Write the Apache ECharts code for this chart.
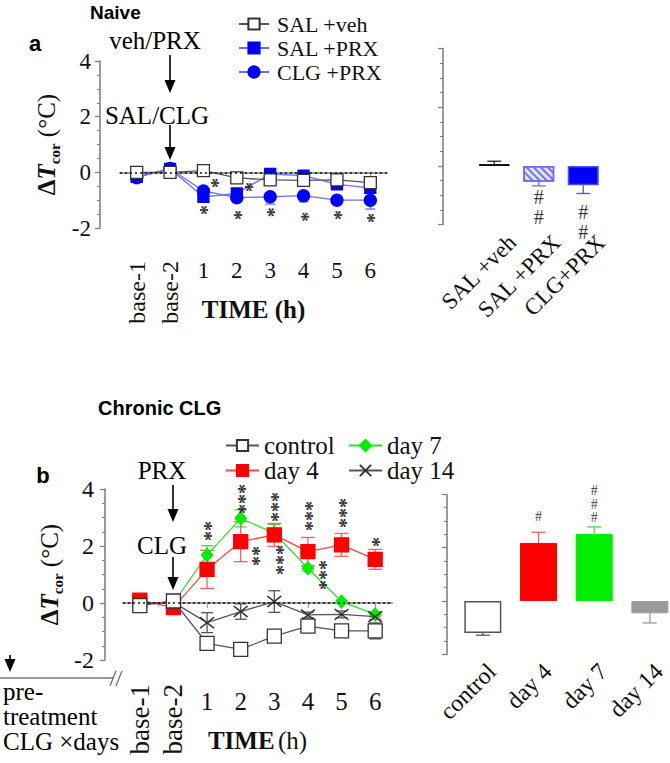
<!DOCTYPE html>
<html><head><meta charset="utf-8">
<script src="https://cdn.jsdelivr.net/npm/echarts@6/dist/echarts.min.js"></script>
<style>html,body{margin:0;padding:0;background:#fff}#c{width:670px;height:763px}</style>
</head><body><div id="c"></div>
<script>
// ---------- DATA ----------
const timeCats = ['base-1','base-2','1','2','3','4','5','6'];
// Panel a (Naive)
const salVeh   = [0, 0, 0.06, -0.2, -0.27, -0.29, -0.27, -0.37];
const salPrx   = [-0.16, 0.12, -0.88, -0.76, -0.06, -0.12, -0.43, -0.56];
const clgPrx   = [-0.19, 0.14, -0.67, -0.91, -0.88, -0.84, -1.0, -1.0];
const salPrxErr = [0, 0, 0.1, 0.08, 0.05, 0.06, 0.08, 0.1];
const clgPrxErr = [0.04, 0.04, 0.1, 0.08, 0.26, 0.22, 0.08, 0.32];
const barCatsA = ['SAL +veh','SAL +PRX','CLG+PRX'];
const barValsA = [0.03, -0.27, -0.33];
const barErrA  = [0.05, 0.07, 0.14];
const starsA     = [[2,-1.35,'*'],[3,-1.53,'*'],[4,-1.43,'*'],[5,-1.6,'*'],[6,-1.53,'*'],[7,-1.64,'*']];
const starsASide = [[2,-0.38,'*'],[3,-0.53,'*']];
const hashA = [[1,-0.7,'#\n#'],[2,-0.96,'#\n#']];
// Panel b (Chronic CLG)
const control = [-0.09, 0.07, -1.42, -1.63, -1.16, -0.81, -0.98, -0.98];
const day4    = [0.1, -0.16, 1.18, 2.15, 2.39, 1.8, 2.04, 1.53];
const day7    = [0.02, 0.0, 1.68, 2.97, 2.45, 1.22, 0.05, -0.4];
const day14   = [0.0, 0.02, -0.69, -0.3, 0.05, -0.42, -0.4, -0.48];
const controlErr = [0.05, 0.05, 0.08, 0.06, 0.12, 0.12, 0.08, 0.28];
const day4Err    = [0.05, 0.05, 0.67, 0.7, 0.4, 0.5, 0.4, 0.35];
const day7Err    = [0, 0, 0.33, 0.3, 0.3, 0.1, 0.05, 0.1];
const day14Err   = [0, 0, 0.35, 0.27, 0.38, 0.1, 0.12, 0.1];
const barCatsB = ['control','day 4','day 7','day 14'];
const barValsB = [-0.6, 1.09, 1.26, -0.23];
const barErrB  = [0.04, 0.2, 0.13, 0.18];
const starsB      = [[2,2.53,'**'],[3,3.65,'***'],[4,3.37,'***'],[5,3.05,'***'],[6,3.16,'***'],[7,2.14,'*']];
const starsBSide  = [[3,1.65,'**'],[5,0.98,'***']];
const starsBBelow = [[4,1.51,'***']];
const hashB = [[1,1.58,'#'],[2,1.82,'#\n#\n#']];

// ---------- STYLE ----------
const SERIF = "'Liberation Serif','Times New Roman',serif";
const AX = '#7a7a7a';

function zip3(v, e){ return v.map((y,i)=>[i,y,e[i]]); }
function errSeries(xi, yi, data, colors, mode, capW){
  return {type:'custom', xAxisIndex:xi, yAxisIndex:yi, z:1, silent:true,
    encode:{x:0,y:1}, data:data,
    renderItem:function(params, api){
      const x=api.value(0), y=api.value(1), e=api.value(2);
      if(!e) return null;
      const color = Array.isArray(colors) ? colors[params.dataIndex] : colors;
      let lo=y-e, hi=y+e;
      if(mode==='down') hi=y;
      if(mode==='away'){ if(y>=0){lo=y;} else {hi=y;} }
      const p1=api.coord([x,hi]), p2=api.coord([x,lo]);
      const st={stroke:color,lineWidth:1.3};
      const ch=[{type:'line',shape:{x1:p1[0],y1:p1[1],x2:p2[0],y2:p2[1]},style:st}];
      const caps=[];
      if(mode==='both'){caps.push(p1,p2);}
      else if(mode==='down'){caps.push(p2);}
      else { caps.push(y>=0?p1:p2); }
      caps.forEach(p=>ch.push({type:'line',shape:{x1:p[0]-capW/2,y1:p[1],x2:p[0]+capW/2,y2:p[1]},style:st}));
      return {type:'group',children:ch};
    }};
}
// stacked asterisks: one line of text turned upright (offset is in the text's own frame)
function starSeries(xi, yi, data, dx){
  return {type:'scatter', xAxisIndex:xi, yAxisIndex:yi, symbolSize:0, silent:true, z:5,
    data:data, label:{show:true, position:'inside', rotate:90, formatter:p=>p.data[2],
      fontFamily:SERIF, fontSize:20, fontWeight:'bold', color:'#000', offset:[0, dx+4]}};
}
function hashSeries(xi, yi, data, size, lh){
  return {type:'scatter', xAxisIndex:xi, yAxisIndex:yi, symbolSize:0, silent:true, z:5,
    data:data, label:{show:true, position:'inside', formatter:p=>p.data[2],
      fontFamily:SERIF, fontSize:size, lineHeight:lh, color:'#000'}};
}
function yName(){
  return {name:'{d|Δ}{t|T}{s|cor}{n| (°C)}', nameLocation:'middle', nameRotate:90,
    nameTextStyle:{rich:{
      d:{fontFamily:SERIF,fontSize:25,fontWeight:'bold',color:'#111',lineHeight:32},
      t:{fontFamily:SERIF,fontSize:25,fontWeight:'bold',fontStyle:'italic',color:'#111',lineHeight:32},
      s:{fontFamily:SERIF,fontSize:15,fontWeight:'bold',color:'#111',verticalAlign:'bottom',lineHeight:32},
      n:{fontFamily:SERIF,fontSize:25,color:'#111',lineHeight:32}}}};
}
function valAxis(grid, min, max, interval, offset, showLabel, margin, size){
  return {type:'value', gridIndex:grid, min:min, max:max, interval:interval, offset:offset,
    axisLine:{show:true, lineStyle:{color:AX, width:1.5}},
    axisTick:{show:true, length:5, lineStyle:{color:AX, width:1.2}},
    minorTick:{show:true, splitNumber:4, length:3, lineStyle:{color:AX}},
    splitLine:{show:false},
    axisLabel:{show:showLabel, fontFamily:SERIF, fontSize:size||22, color:'#111', margin:margin||9}};
}
function catAxis(grid, data, offset, fmt, rotate, margin, size, extra){
  return Object.assign({type:'category', gridIndex:grid, data:data, offset:offset, boundaryGap:true, position:'bottom',
    axisLine:{show:true, lineStyle:{color:'#999', width:2}},
    axisTick:{show:true, alignWithLabel:true, length:5, lineStyle:{color:'#999', width:1.2}},
    axisLabel:{interval:0, rotate:rotate, margin:margin, fontFamily:SERIF, fontSize:size, color:'#111', formatter:fmt}}, extra||{});
}
const numFmt = v => v.indexOf('base')===0 ? '' : v;
const baseFmt = v => v.indexOf('base')===0 ? v : '';
const hidden = {axisLine:{show:false}, axisTick:{show:false}};
const noAxis = {axisLine:{show:false}, axisTick:{show:false}, axisLabel:{show:false}};

const gridBase = {outerBoundsMode:'none', containLabel:false};
const grids = [
  Object.assign({left:120, top:61, width:267, height:167}, gridBase),   // 0 a line
  Object.assign({left:472, top:48.6, width:133.5, height:176}, gridBase), // 1 a bars
  Object.assign({left:123, top:489, width:269, height:171}, gridBase),  // 2 b line
  Object.assign({left:455, top:494.4, width:222.7, height:160}, gridBase), // 3 b bars
  Object.assign({left:490, top:48.6, width:133.5, height:176}, gridBase), // 4 a bar labels
  Object.assign({left:464, top:494.4, width:222.7, height:160}, gridBase)  // 5 b bar labels
];

const xAxes = [
  catAxis(0, timeCats, 21, numFmt, 0, 10, 23, {name:'{b|TIME (h)}', nameLocation:'middle', nameGap:48,
     nameTextStyle:{rich:{b:{fontFamily:SERIF,fontSize:25,fontWeight:'bold',color:'#111'}}}}),
  catAxis(0, timeCats, 21, baseFmt, 90, 12, 24, hidden),
  catAxis(1, barCatsA, 0, null, 0, 8, 23, noAxis),
  catAxis(2, timeCats, 18, numFmt, 0, 11, 25, {name:'{b|TIME} {n|(h)}', nameLocation:'middle', nameGap:50,
     nameTextStyle:{rich:{b:{fontFamily:SERIF,fontSize:25,fontWeight:'bold',color:'#111'},
                          n:{fontFamily:SERIF,fontSize:25,color:'#111'}}}}),
  catAxis(2, timeCats, 18, baseFmt, 90, 6, 27, hidden),
  catAxis(3, barCatsB, 0, null, 0, 8, 23, noAxis),
  catAxis(4, barCatsA, 0, null, 45, 14, 23, hidden),
  catAxis(5, barCatsB, 0, null, 45, 13, 24, hidden)
];
const yAxes = [
  Object.assign(valAxis(0, -2, 4, 2, 20, true, 9, 23), yName(), {nameGap:38}),
  valAxis(1, -1, 2, 1, 29, false),
  Object.assign(valAxis(2, -2, 4, 2, 18, true, 11, 24), yName(), {nameGap:40}),
  valAxis(3, -1, 2, 1, 8, false),
  {type:'value', gridIndex:4, show:false, min:0, max:1},
  {type:'value', gridIndex:5, show:false, min:0, max:1}
];

const dotted = {silent:true, symbol:['none','none'], label:{show:false},
  lineStyle:{type:[2,3], color:'#111', width:1.5}, data:[{yAxis:0}]};

function lineS(xi, yi, name, data, lineColor, symbol, size, fill, border, z, extra){
  return Object.assign({type:'line', name:name, xAxisIndex:xi, yAxisIndex:yi, data:data, z:z,
    symbol:symbol, symbolSize:size, showSymbol:true,
    lineStyle:{color:lineColor, width:1.3},
    itemStyle:{color:fill, borderColor:border, borderWidth:1.3}, emphasis:{disabled:true}}, extra||{});
}
const xPath = 'path://M0 0L10 10M10 0L0 10';

const barColorsB = [
  {color:'#ffffff', borderColor:'#555', borderWidth:1.5},
  {color:'#ff0000', borderColor:'#ff0000', borderWidth:1},
  {color:'#00ee00', borderColor:'#00ee00', borderWidth:1},
  {color:'#9a9a9a', borderColor:'#9a9a9a', borderWidth:1}
];
const errColorsB = ['#555','#ff6060','#44dd44','#999'];
const barColorsA = [
  {color:'#000', borderColor:'#000', borderWidth:1},
  {color:'#e4e4ff', borderColor:'#6b6bff', borderWidth:1.5,
   decal:{symbol:'rect', symbolSize:1, dashArrayX:[1,0], dashArrayY:[1.5,3], rotation:Math.PI/4, color:'#7474f0'}},
  {color:'#0000ff', borderColor:'#4d4dff', borderWidth:1.5}
];
const errColorsA = ['#222','#6b6bff','#4d4dff'];

const series = [
  // panel a line
  errSeries(0,0, zip3(salPrx, salPrxErr), '#6b6bff', 'down', 10),
  errSeries(0,0, zip3(clgPrx, clgPrxErr), '#6b6bff', 'down', 10),
  lineS(0,0,'CLG +PRX', clgPrx, '#6b6bff', 'circle', 12, '#0000ff', '#0000ff', 2, {markLine:dotted}),
  lineS(0,0,'SAL +PRX', salPrx, '#6b6bff', 'rect', 11, '#0000ff', '#0000ff', 3),
  lineS(0,0,'SAL +veh', salVeh, '#555', 'rect', 12, '#ffffff', '#333', 4),
  starSeries(0,0, starsA, 0),
  starSeries(0,0, starsASide, 11),
  // panel a bars
  {type:'bar', xAxisIndex:2, yAxisIndex:1, barWidth:31, silent:true, z:2,
   data: barValsA.map((v,i)=>({value:v, itemStyle:barColorsA[i]}))},
  errSeries(2,1, zip3(barValsA, barErrA), errColorsA, 'away', 14),
  hashSeries(2,1, hashA, 20, 20),
  // panel b line
  errSeries(3,2, zip3(day7, day7Err), '#44dd44', 'both', 12),
  errSeries(3,2, zip3(day4, day4Err), '#ff6060', 'both', 14),
  errSeries(3,2, zip3(day14, day14Err), '#555', 'both', 12),
  errSeries(3,2, zip3(control, controlErr), '#555', 'both', 12),
  lineS(3,2,'day 7', day7, '#33dd33', 'diamond', [11,13], '#00ee00', '#00ee00', 2, {markLine:dotted}),
  lineS(3,2,'day 4', day4, '#ff4444', 'rect', 14, '#ff0000', '#ff0000', 3),
  lineS(3,2,'day 14', day14, '#555', xPath, [14,11], '#444', '#333', 3, {itemStyle:{color:'#444', borderColor:'#333', borderWidth:1.5}}),
  lineS(3,2,'control', control, '#555', 'rect', 14, '#ffffff', '#333', 4),
  starSeries(3,2, starsB, 0),
  starSeries(3,2, starsBSide, 14),
  starSeries(3,2, starsBBelow, 5),
  // panel b bars
  {type:'bar', xAxisIndex:5, yAxisIndex:3, barWidth:37, silent:true, z:2,
   data: barValsB.map((v,i)=>({value:v, itemStyle:barColorsB[i]}))},
  errSeries(5,3, zip3(barValsB, barErrB), errColorsB, 'away', 14),
  hashSeries(5,3, hashB, 14, 13.5)
];

const legendText = (size)=>({fontFamily:SERIF, fontSize:size, color:'#111'});
const legends = [
  {data:['SAL +veh','SAL +PRX','CLG +PRX'], orient:'vertical', left:233, top:8, itemWidth:30, itemHeight:14,
   itemGap:2, selectedMode:false, textStyle:Object.assign(legendText(22), {padding:[0,0,0,3]})},
  {data:['control','day 4'], orient:'vertical', left:220, top:428, itemWidth:33, itemHeight:14,
   itemGap:0, selectedMode:false, textStyle:legendText(25)},
  {data:['day 7','day 14'], orient:'vertical', left:343, top:428, itemWidth:33, itemHeight:14,
   itemGap:0, selectedMode:false, textStyle:legendText(25)}
];

function arrow(x, y1, y2){
  return [
    {type:'line', shape:{x1:x,y1:y1,x2:x,y2:y2-10}, style:{stroke:'#000', lineWidth:1.6}, silent:true},
    {type:'polygon', shape:{points:[[x-5.5,y2-13],[x+5.5,y2-13],[x,y2]]}, style:{fill:'#000'}, silent:true}
  ];
}
function txt(x, y, s, font, align){
  return {type:'text', x:x, y:y, silent:true,
    style:{text:s, font:font, fill:'#000', align:align||'center', verticalAlign:'middle'}};
}
const F25 = "25px 'Liberation Serif','Times New Roman',serif";
const graphics = [].concat(
  [txt(90, 12, 'Naive', "bold 19px 'Liberation Sans',Arial,sans-serif", 'left'),
   txt(35, 43, 'a', "bold 22px 'Liberation Sans',Arial,sans-serif"),
   txt(155, 40, 'veh/PRX', F25),
   txt(157, 115, 'SAL/CLG', F25),
   txt(98, 408, 'Chronic CLG', "bold 20px 'Liberation Sans',Arial,sans-serif", 'left'),
   txt(43, 475, 'b', "bold 22px 'Liberation Sans',Arial,sans-serif"),
   txt(162, 470, 'PRX', F25),
   txt(162, 545, 'CLG', F25),
   txt(3, 691, 'pre-', F25, 'left'),
   txt(3, 716, 'treatment', F25, 'left'),
   txt(3, 741, 'CLG \u00d7days', F25, 'left'),
   {type:'line', shape:{x1:0,y1:678,x2:113,y2:678}, style:{stroke:'#999', lineWidth:2}, silent:true},
   {type:'line', shape:{x1:110,y1:686,x2:116,y2:671}, style:{stroke:'#666', lineWidth:1.2}, silent:true},
   {type:'line', shape:{x1:116,y1:686,x2:122,y2:671}, style:{stroke:'#666', lineWidth:1.2}, silent:true}
  ],
  arrow(170, 55, 93), arrow(170, 125, 160), arrow(173, 485, 522), arrow(173, 557, 590), arrow(10, 655, 672)
);

const chart = echarts.init(document.getElementById('c'), null, {renderer:'svg', width:670, height:763});
chart.setOption({
  backgroundColor:'#ffffff', animation:false,
  grid:grids, xAxis:xAxes, yAxis:yAxes, series:series, legend:legends, graphic:graphics,
  tooltip:{show:false}
});
</script></body></html>
